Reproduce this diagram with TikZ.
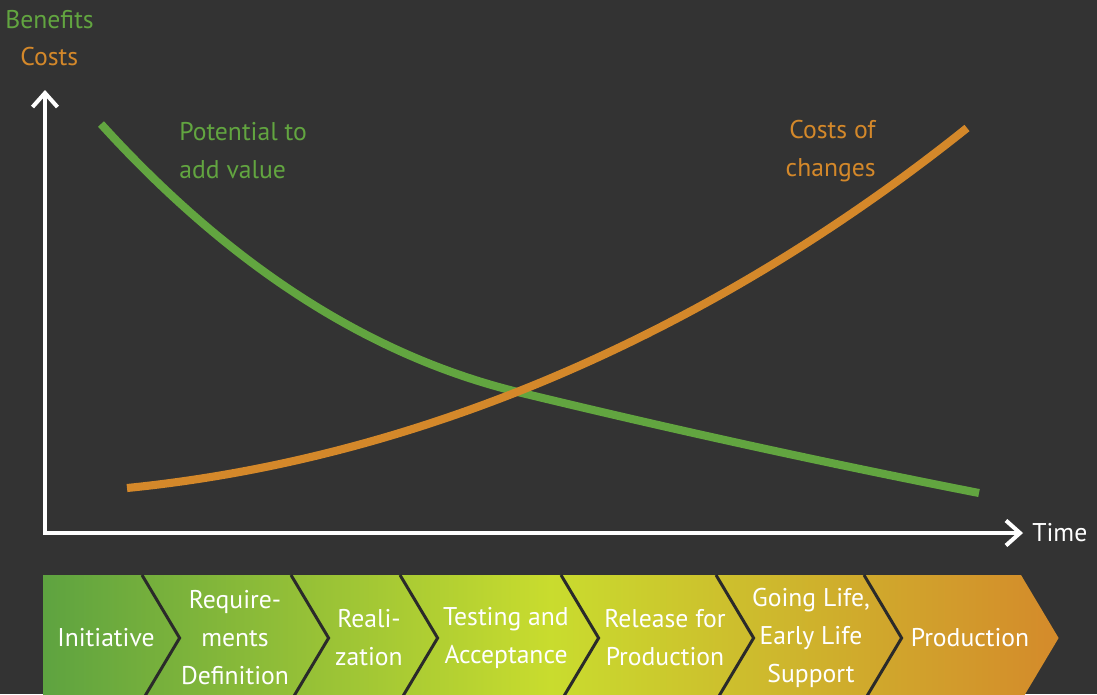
\documentclass[tikz,border=0pt]{standalone}
\usepackage{fontspec}
\setmainfont{PT Sans}
\usetikzlibrary{arrows.meta,positioning}
\definecolor{bgdark}{HTML}{333333}
\definecolor{sepdark}{HTML}{2A2A2A}
\definecolor{benefitgreen}{HTML}{62A540}
\definecolor{costorange}{HTML}{D4882A}
\definecolor{bandgreen}{HTML}{5EA340}
\definecolor{bandlime}{HTML}{C9DC2E}
\definecolor{bandorange}{HTML}{D48A2B}
\pgfdeclarehorizontalshading{phaseband}{100bp}{color(0bp)=(bandgreen); color(25bp)=(bandgreen); color(50bp)=(bandlime); color(75bp)=(bandorange); color(100bp)=(bandorange)}
\tikzset{
    %Define standard arrow tip
    >={Straight Barb[length=0.28cm,width=0.5cm]},
    %Define style for texts
    lbl/.style={
           font=\fontsize{14.6}{21.6}\selectfont,
           inner sep=0pt},
    phase/.style={
           lbl,
           text=white,
           align=center},
    % Define line styles
    axis/.style={
           <->,
           white,
           line width=2.3pt},
    curve/.style={
           line width=4.6pt},
    notch/.style={
           sepdark,
           line width=1.7pt}
}

\begin{document}
\begin{tikzpicture}[x=0.02cm, y=-0.02cm]
 %canvas
    \useasboundingbox (0,0) rectangle (1097,694);
    \fill[bgdark] (0,0) rectangle (1097,694);
    \clip (0,0) rectangle (1097,694);
 %axes
    \coordinate (ytop) at (45,90);
    \coordinate (origin) at (45,533);
    \coordinate (xend) at (1023,533);
    \draw[axis] (ytop) -- (origin) -- (xend);
    \node[lbl, text=benefitgreen, anchor=west] (benefits) at (5,20) {Benefits};
    \node[lbl, text=costorange, anchor=west] (costs) at (20,57) {Costs};
    \node[lbl, text=white, right=0.18cm of xend] (time) {Time};
 %curves
    \draw[curve, benefitgreen] (101,124) .. controls (231,267) and (371,357) .. (522,393) .. controls (683,432) and (836,465) .. (979,493);
    \draw[curve, costorange] (127,488) .. controls (427,458) and (717,328) .. (967,128);
    \node[lbl, text=benefitgreen, anchor=west, align=left] (potential) at (179,151) {Potential to\\add value};
    \node[lbl, text=costorange, anchor=east, align=right] (changecost) at (876,151) {Costs of\\changes};
 %phases
    \shade[shading=phaseband] (43,575) -- (1021,575) -- (1058.6,638) -- (1021,701) -- (43,701) -- cycle;
    \foreach \sx in {142,291,400,561,716,864}
        \draw[notch] (\sx,575) -- ++(37.6,63) -- ++(-37.6,63);
    \node[phase] (initiative) at (106,638) {Initiative};
    \node[phase] (requirements) at (235,638) {Require-\\ments\\Definition};
    \node[phase] (realization) at (369,638) {Reali-\\zation};
    \node[phase] (testing) at (506,638) {Testing and\\Acceptance};
    \node[phase] (release) at (665,638) {Release for\\Production};
    \node[phase] (golive) at (811,638) {Going Life,\\Early Life\\Support};
    \node[phase] (production) at (970,638) {Production};
\end{tikzpicture}
\end{document}
